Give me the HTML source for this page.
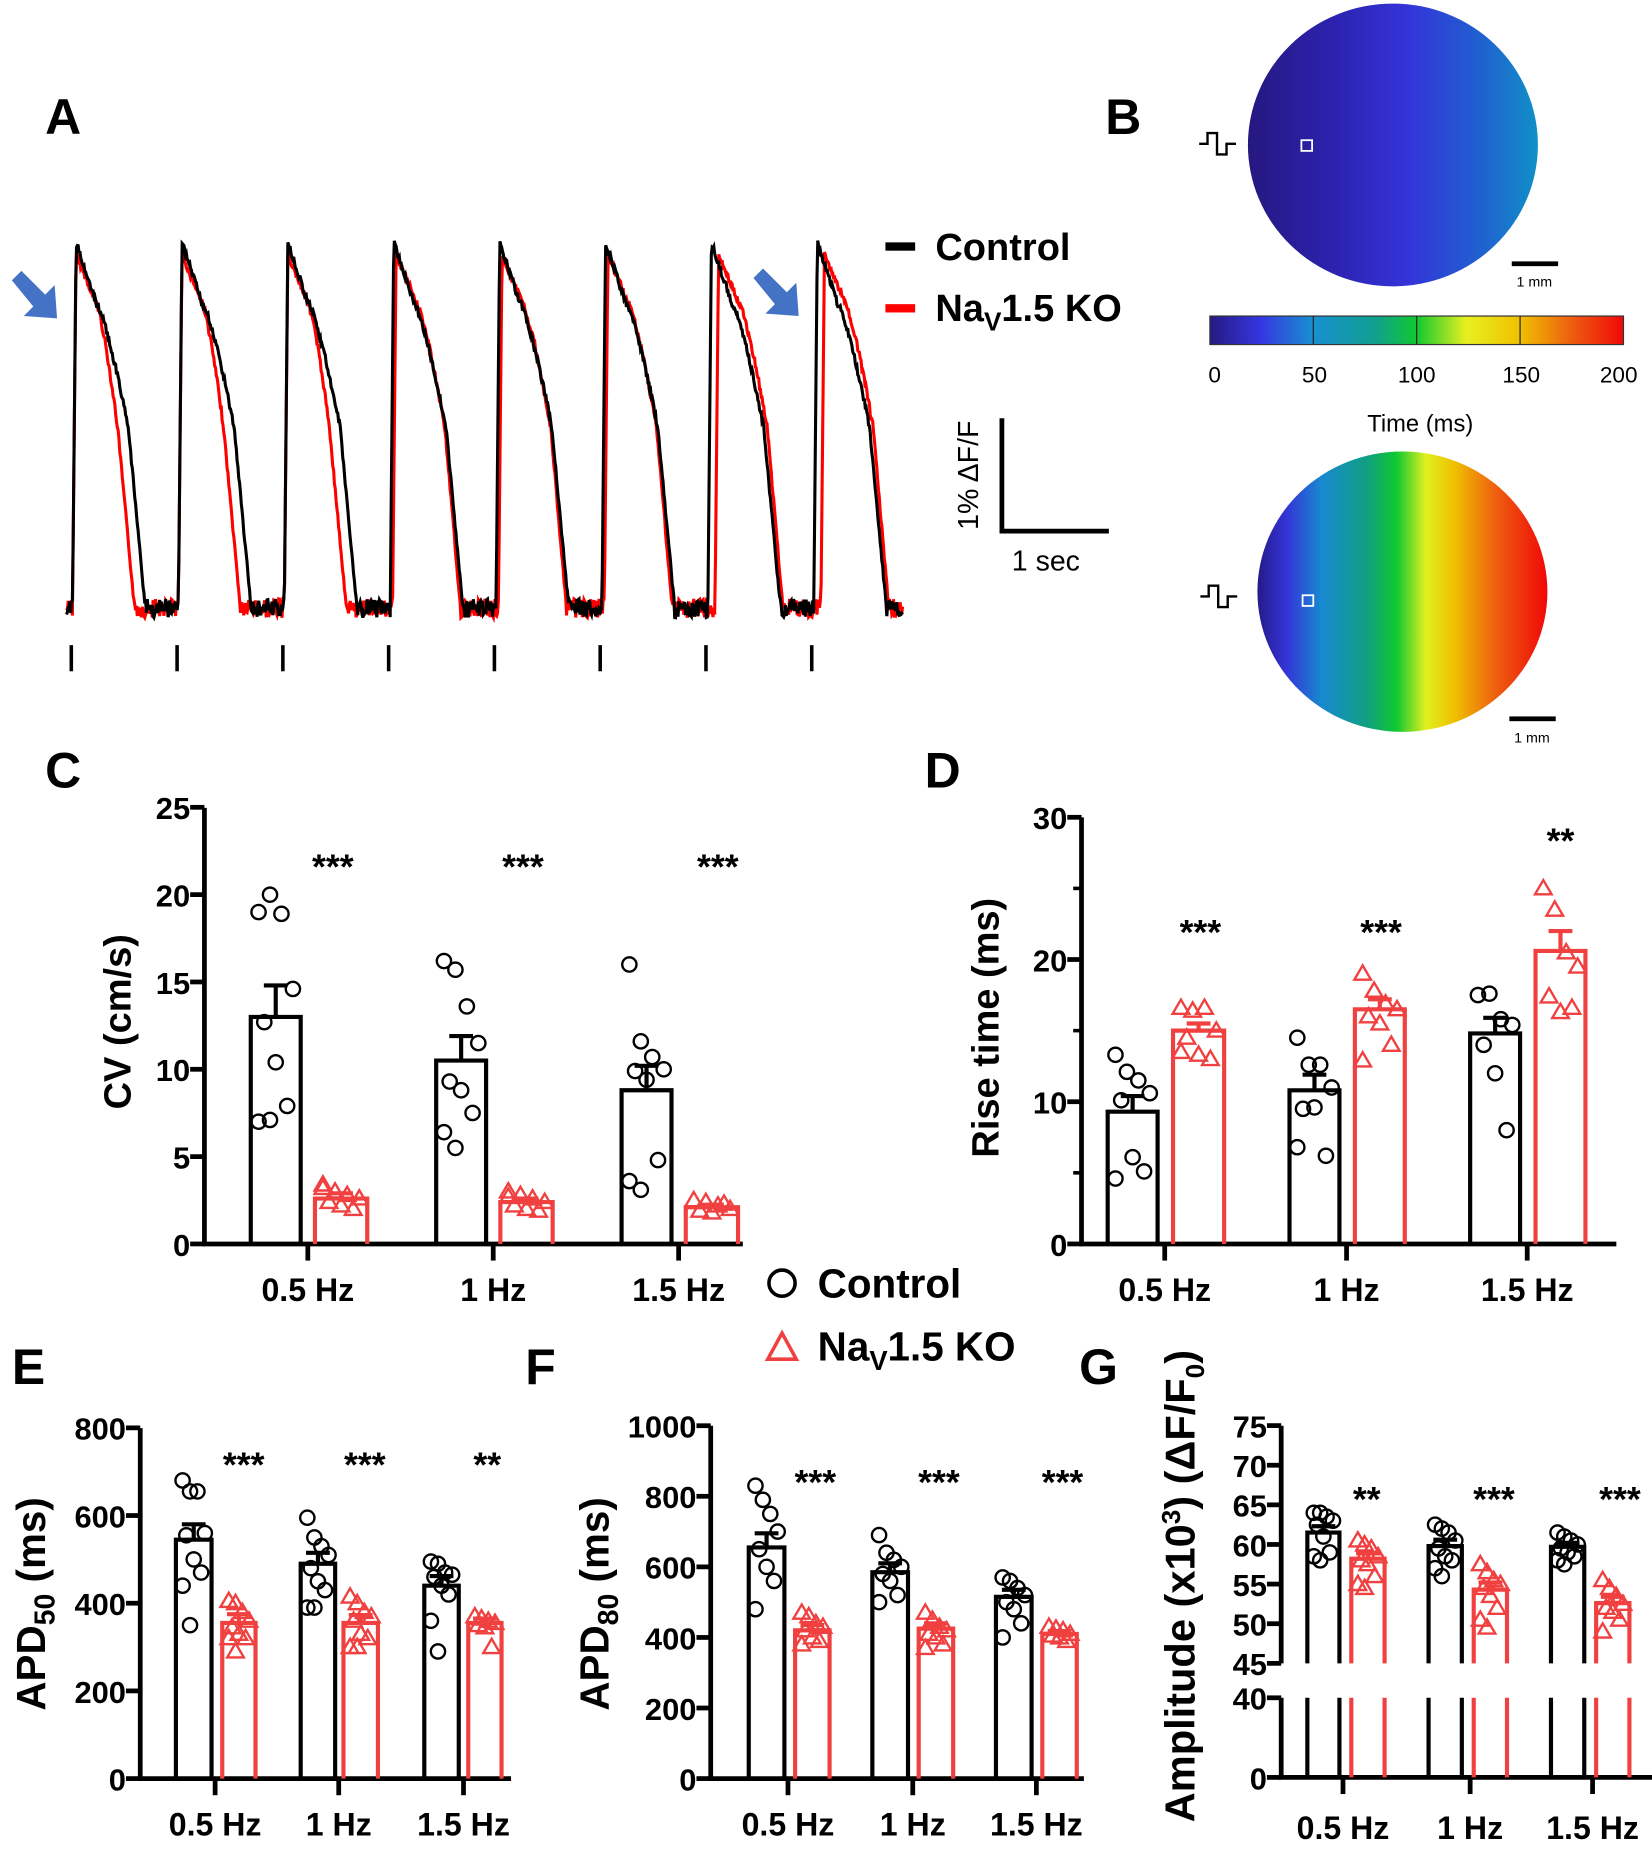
<!DOCTYPE html>
<html><head><meta charset="utf-8">
<style>
html,body{margin:0;padding:0;background:#fff;}
svg{display:block;font-family:"Liberation Sans",Arial,sans-serif;}
</style></head>
<body>
<svg id="s" width="1652" height="1857" viewBox="0 0 1390 1563" preserveAspectRatio="none" xmlns="http://www.w3.org/2000/svg">
<defs>
<linearGradient id="topg" x1="0" x2="1" y1="0" y2="0">
<stop offset="0" stop-color="#251880"/><stop offset="0.3" stop-color="#2c22b0"/><stop offset="0.55" stop-color="#3434d8"/><stop offset="0.8" stop-color="#2060d0"/><stop offset="1" stop-color="#1090c8"/>
</linearGradient>
<linearGradient id="jet" x1="0" x2="1" y1="0" y2="0">
<stop offset="0" stop-color="#261a80"/><stop offset="0.12" stop-color="#3535e0"/><stop offset="0.25" stop-color="#1890d0"/><stop offset="0.4" stop-color="#10a090"/><stop offset="0.5" stop-color="#10c830"/><stop offset="0.62" stop-color="#e8f020"/><stop offset="0.75" stop-color="#f0c000"/><stop offset="0.88" stop-color="#ee5a10"/><stop offset="1" stop-color="#f00808"/>
</linearGradient>
<linearGradient id="botg" x1="0" x2="1" y1="0" y2="0">
<stop offset="0" stop-color="#261a88"/><stop offset="0.1" stop-color="#3434d8"/><stop offset="0.22" stop-color="#1888d0"/><stop offset="0.38" stop-color="#10a080"/><stop offset="0.48" stop-color="#10c830"/><stop offset="0.58" stop-color="#e0f020"/><stop offset="0.68" stop-color="#f0c000"/><stop offset="0.82" stop-color="#ee6010"/><stop offset="1" stop-color="#f00808"/>
</linearGradient>
</defs>
<g id="root"></g>
</svg>
<script>
var R=document.getElementById('root');var h='';
function seed(s){return function(){s=(s*9301+49297)%233280;return s/233280;}}
var rnd=seed(7);
function T(x,y,t,sz,anc,extra){return '<text x="'+x+'" y="'+y+'" font-size="'+sz+'" font-weight="bold" text-anchor="'+(anc||'start')+'" '+(extra||'')+'>'+t+'</text>';}
h+=T(38,113,'A',42)+T(930,113,'B',42)+T(38,663,'C',42)+T(778,663,'D',42)+T(10,1165,'E',42)+T(442,1165,'F',42)+T(908,1165,'G',42);
function trace(red){
 var pts=[];var x0s=[];for(var i=0;i<8;i++)x0s.push(61+i*89.1);
 for(var x=56;x<=760;x+=0.7){
  var y=512+(rnd()-0.5)*16;
  for(var i=0;i<8;i++){
   var off=red&&i>=3?(i>=6?6:2):0;
   var t=x-x0s[i]-off;
   if(t<0||t>75)continue;
   var pk=red?214:204, a,b,c;
   if(red){a=20;b=38;c=52;}else{a=20;b=47;c=61;}
   if(red&&i>=3){b=44;c=57;}
   if(t<3)y=512-(512-pk)*t/3;
   else if(t<a)y=pk+(255-pk)*(t-3)/(a-3)+(rnd()-0.5)*6;
   else if(t<b)y=255+(360-255)*Math.pow((t-a)/(b-a),1.3)+(rnd()-0.5)*6;
   else if(t<c){var u=(t-b)/(c-b);y=360+150*u+(rnd()-0.5)*5;}
   else y=512+(rnd()-0.5)*16;
  }
  pts.push(x.toFixed(1)+','+y.toFixed(1));
 }
 return '<polyline fill="none" stroke="'+(red?'#f00':'#000')+'" stroke-width="2.6" points="'+pts.join(' ')+'"/>';
}
h+=trace(true)+trace(false);
for(var i=0;i<8;i++){var tx=60+i*89;h+='<line x1="'+tx+'" x2="'+tx+'" y1="543" y2="565" stroke="#000" stroke-width="3"/>';}
function arrow(x,y){return '<polygon fill="#4472c4" points="'+(x)+','+(y+8)+' '+(x+8)+','+y+' '+(x+28)+','+(y+20)+' '+(x+36)+','+(y+12)+' '+(x+38)+','+(y+40)+' '+(x+10)+','+(y+38)+' '+(x+18)+','+(y+30)+'"/>';}
h+=arrow(10,228)+arrow(634,226);
h+='<rect x="745" y="204" width="25" height="7" fill="#000"/><rect x="745" y="256" width="25" height="7" fill="#f00"/>';
h+=T(787,219,'Control',32)+'<text x="787" y="270" font-size="32" font-weight="bold">Na<tspan font-size="22" dy="8">V</tspan><tspan dy="-8">1.5 KO</tspan></text>';
h+='<polyline fill="none" stroke="#000" stroke-width="4" points="843,352 843,447 933,447"/>';
h+='<text x="0" y="0" font-size="24" transform="translate(823,400) rotate(-90)" text-anchor="middle">1% ΔF/F</text>';
h+='<text x="880" y="480" font-size="24" text-anchor="middle">1 sec</text>';
h+='<ellipse cx="1172" cy="122" rx="122" ry="119" fill="url(#topg)"/>';
h+='<ellipse cx="1180" cy="498" rx="122" ry="118" fill="url(#botg)"/>';
function stim(x,y){return '<polyline fill="none" stroke="#000" stroke-width="2" points="'+x+','+y+' '+(x+7)+','+y+' '+(x+7)+','+(y-9)+' '+(x+15)+','+(y-9)+' '+(x+15)+','+(y+9)+' '+(x+23)+','+(y+9)+' '+(x+23)+','+y+' '+(x+31)+','+y+'"/>';}
h+=stim(1009,121)+stim(1010,502);
h+='<rect x="1095" y="118" width="9" height="9" fill="none" stroke="#fff" stroke-width="1.5"/><rect x="1096" y="501" width="9" height="9" fill="none" stroke="#fff" stroke-width="1.5"/>';
h+='<rect x="1272" y="220" width="39" height="4" fill="#000"/><text x="1291" y="241" font-size="12" text-anchor="middle">1 mm</text>';
h+='<rect x="1270" y="603" width="39" height="4" fill="#000"/><text x="1289" y="625" font-size="12" text-anchor="middle">1 mm</text>';
h+='<rect x="1018" y="266" width="348" height="24" fill="url(#jet)" stroke="#333" stroke-width="1"/>';
[1105,1192,1279].forEach(function(x){h+='<line x1="'+x+'" x2="'+x+'" y1="266" y2="290" stroke="#222" stroke-width="1"/>';});
[[1022,'0'],[1106,'50'],[1192,'100'],[1280,'150'],[1362,'200']].forEach(function(a){h+='<text x="'+a[0]+'" y="322" font-size="19" text-anchor="middle">'+a[1]+'</text>';});
h+='<text x="1195" y="363" font-size="20" text-anchor="middle">Time (ms)</text>';

function chart(o){
 var s='';var ax=o.ax, y0=o.y0, sc=o.sc;
 function Y(v){ if(o.brk){ if(v<=40) return o.y0 - v*(o.y0-o.y40)/40; return o.y45 - (v-45)*o.usc;} return y0 - v*sc; }
 if(o.brk){
  s+='<line x1="'+ax+'" x2="'+ax+'" y1="'+o.ytop+'" y2="'+o.y45+'" stroke="#000" stroke-width="4"/>';
  s+='<line x1="'+ax+'" x2="'+ax+'" y1="'+o.y40+'" y2="'+y0+'" stroke="#000" stroke-width="4"/>';
 } else s+='<line x1="'+ax+'" x2="'+ax+'" y1="'+o.ytop+'" y2="'+y0+'" stroke="#000" stroke-width="4"/>';
 s+='<line x1="'+(ax-2)+'" x2="'+o.xend+'" y1="'+y0+'" y2="'+y0+'" stroke="#000" stroke-width="4"/>';
 o.ticks.forEach(function(t){var yy=Y(t);s+='<line x1="'+(ax-12)+'" x2="'+ax+'" y1="'+yy+'" y2="'+yy+'" stroke="#000" stroke-width="4"/>';s+=T(ax-12,yy+10,t,o.fs,'end');});
 if(o.minor)o.minor.forEach(function(t){var yy=Y(t);s+='<line x1="'+(ax-7)+'" x2="'+ax+'" y1="'+yy+'" y2="'+yy+'" stroke="#000" stroke-width="3"/>';});
 var labs=['0.5 Hz','1 Hz','1.5 Hz'];
 o.cat.forEach(function(cx,i){s+='<line x1="'+cx+'" x2="'+cx+'" y1="'+y0+'" y2="'+(y0+14)+'" stroke="#000" stroke-width="4"/>';s+=T(cx,o.ly,labs[i],o.lfs,'middle');});
 o.bars.forEach(function(b,i){
  var col=b.r?'#f04040':'#000';
  var top=Y(b.v);
  if(o.brk){
   s+='<polyline fill="none" stroke="'+col+'" stroke-width="3.5" points="'+b.x1+','+o.y45+' '+b.x1+','+top+' '+b.x2+','+top+' '+b.x2+','+o.y45+'"/>';
   s+='<line x1="'+b.x1+'" x2="'+b.x1+'" y1="'+o.y40+'" y2="'+y0+'" stroke="'+col+'" stroke-width="3.5"/><line x1="'+b.x2+'" x2="'+b.x2+'" y1="'+o.y40+'" y2="'+y0+'" stroke="'+col+'" stroke-width="3.5"/>';
  } else s+='<polyline fill="none" stroke="'+col+'" stroke-width="3.5" points="'+b.x1+','+y0+' '+b.x1+','+top+' '+b.x2+','+top+' '+b.x2+','+y0+'"/>';
  var cx=(b.x1+b.x2)/2, et=Y(b.v+b.e);
  s+='<line x1="'+cx+'" x2="'+cx+'" y1="'+top+'" y2="'+et+'" stroke="'+col+'" stroke-width="3.5"/><line x1="'+(cx-10)+'" x2="'+(cx+10)+'" y1="'+et+'" y2="'+et+'" stroke="'+col+'" stroke-width="3.5"/>';
  var w=(b.x2-b.x1)/2-4;
  b.d.forEach(function(v,k){
   var dx=((k*37)%7-3)/3*w*0.85;
   var yy=Y(v);
   if(b.r) s+='<polygon fill="none" stroke="#f04040" stroke-width="2" points="'+(cx+dx)+','+(yy-7)+' '+(cx+dx-7)+','+(yy+5)+' '+(cx+dx+7)+','+(yy+5)+'"/>';
   else s+='<circle cx="'+(cx+dx)+'" cy="'+yy+'" r="6" fill="none" stroke="#000" stroke-width="2"/>';
  });
 });
 o.stars.forEach(function(st){s+=T(st[0],st[1],st[2],o.sfs||30,'middle');});
 s+='<text x="0" y="0" font-size="'+o.yfs+'" font-weight="bold" text-anchor="middle" transform="translate('+o.yl[0]+','+o.yl[1]+') rotate(-90)">'+o.ylab+'</text>';
 return s;
}
h+=chart({ax:172,y0:1047,sc:14.7,ytop:680,xend:625,ticks:[0,5,10,15,20,25],fs:26,cat:[259,415,571],ly:1095,lfs:27,
 bars:[{x1:211,x2:253,v:13,e:1.8,d:[19,20,18.9,14.6,12.7,10.4,7.9,7,7.1]},{x1:265,x2:309,v:2.6,e:0.3,r:1,d:[3.2,3,2.8,2.6,2.4,2.2,2,3.4]},
 {x1:367,x2:409,v:10.5,e:1.4,d:[16.2,15.7,13.6,11.5,9.3,8.8,7.5,6.4,5.5]},{x1:421,x2:465,v:2.4,e:0.2,r:1,d:[3,2.8,2.6,2.4,2.2,2,1.9,2.7]},
 {x1:523,x2:565,v:8.8,e:1.4,d:[16,11.6,10.7,10,9.9,9.4,4.8,3.6,3.1]},{x1:577,x2:621,v:2.1,e:0.15,r:1,d:[2.5,2.4,2.2,2,1.9,1.8,2.3]}],
 stars:[[280,740,'***'],[440,740,'***'],[604,740,'***']],ylab:'CV (cm/s)',yfs:32,yl:[110,860]});
h+=chart({ax:910,y0:1047,sc:11.97,ytop:688,xend:1360,ticks:[0,10,20,30],minor:[5,15,25],fs:26,cat:[980,1133,1285],ly:1095,lfs:27,
 bars:[{x1:932,x2:974,v:9.3,e:1.1,d:[13.3,12.1,11.5,10.6,10.1,6.1,5.1,4.6]},{x1:987,x2:1030,v:15,e:0.5,r:1,d:[16.6,16.4,16.6,15,14.5,13.3,13,13.5]},
 {x1:1085,x2:1127,v:10.8,e:1.1,d:[14.5,12.6,12.6,11,9.5,9.6,6.2,6.8]},{x1:1140,x2:1182,v:16.5,e:0.7,r:1,d:[19,17.8,16.9,16.5,16,15.5,14,12.9]},
 {x1:1237,x2:1279,v:14.8,e:1.1,d:[17.5,17.6,15.8,15.4,14,12,8]},{x1:1292,x2:1334,v:20.6,e:1.4,r:1,d:[25,23.5,20.5,19.5,17.4,16.3,16.6]}],
 stars:[[1010,795,'***'],[1162,795,'***'],[1313,718,'**']],ylab:'Rise time (ms)',yfs:32,yl:[840,865]});
h+='<circle cx="658" cy="1080" r="11" fill="none" stroke="#000" stroke-width="3"/>'+T(688,1092,'Control',34);
h+='<polygon points="658,1122 646,1144 670,1144" fill="none" stroke="#f04040" stroke-width="3"/>';
h+='<text x="688" y="1145" font-size="34" font-weight="bold">Na<tspan font-size="23" dy="8">V</tspan><tspan dy="-8">1.5 KO</tspan></text>';
h+=chart({ax:118,y0:1497,sc:0.369,ytop:1202,xend:430,ticks:[0,200,400,600,800],fs:26,cat:[181,285,390],ly:1545,lfs:27,
 bars:[{x1:148,x2:178,v:545,e:35,d:[680,655,655,560,555,500,470,440,350]},{x1:187,x2:215,v:355,e:20,r:1,d:[405,400,380,360,345,330,320,320,290]},
 {x1:253,x2:282,v:490,e:25,d:[595,550,530,510,480,450,430,390,390]},{x1:289,x2:318,v:355,e:18,r:1,d:[415,400,380,370,360,330,320,300,300]},
 {x1:357,x2:386,v:440,e:22,d:[495,490,470,465,460,440,420,360,290]},{x1:394,x2:422,v:355,e:10,r:1,d:[370,365,360,355,350,345,300]}],
 stars:[[205,1243,'***'],[307,1243,'***'],[410,1243,'**']],ylab:'APD<tspan font-size="24" dy="8">50</tspan><tspan dy="-8"> (ms)</tspan>',yfs:34,yl:[38,1350]});
h+=chart({ax:598,y0:1497,sc:0.297,ytop:1200,xend:912,ticks:[0,200,400,600,800,1000],fs:26,cat:[663,768,872],ly:1545,lfs:27,
 bars:[{x1:630,x2:660,v:655,e:40,d:[830,790,750,700,650,600,560,480]},{x1:669,x2:698,v:420,e:15,r:1,d:[470,460,440,430,420,400,390,380]},
 {x1:734,x2:764,v:585,e:25,d:[690,640,620,600,580,560,520,500]},{x1:773,x2:802,v:425,e:15,r:1,d:[470,450,430,420,410,400,380,370]},
 {x1:838,x2:868,v:515,e:20,d:[570,560,540,520,500,480,440,400]},{x1:877,x2:906,v:410,e:8,r:1,d:[430,425,420,410,405,400,390]}],
 stars:[[686,1258,'***'],[790,1258,'***'],[894,1258,'***']],ylab:'APD<tspan font-size="24" dy="8">80</tspan><tspan dy="-8"> (ms)</tspan>',yfs:34,yl:[512,1350]});
h+=chart({brk:1,ax:1078,y0:1496,y40:1429,y45:1400,usc:6.67,ytop:1200,xend:1390,ticks:[0,40,45,50,55,60,65,70,75],fs:26,cat:[1130,1237,1340],ly:1548,lfs:27,
 bars:[{x1:1100,x2:1127,v:61.5,e:0.8,d:[64,64,63.5,63,62.5,61,59,58.5,58]},{x1:1137,x2:1165,v:58.2,e:0.7,r:1,d:[60.5,60,59.5,58.5,58,57.5,56,55,54.5]},
 {x1:1202,x2:1230,v:59.8,e:0.8,d:[62.5,62,61.5,60.5,59.5,58.5,58,57,56]},{x1:1240,x2:1268,v:54.3,e:0.9,r:1,d:[57.5,56.5,55.5,55,54.5,53.5,52,50.5,49.5]},
 {x1:1305,x2:1333,v:59.7,e:0.5,d:[61.5,61,60.5,60,59.5,59,58.5,58,57.5]},{x1:1343,x2:1371,v:52.6,e:0.8,r:1,d:[55.5,54.5,53.5,52.5,52,51.5,50.5,49]}],
 stars:[[1150,1272,'**'],[1257,1272,'***'],[1363,1272,'***']],ylab:'Amplitude (x10<tspan font-size="22" dy="-12">3</tspan><tspan dy="12">) (ΔF/F</tspan><tspan font-size="22" dy="8">0</tspan><tspan dy="-8">)</tspan>',yfs:35,yl:[1005,1335]});
R.innerHTML=h;
</script>
</body></html>
